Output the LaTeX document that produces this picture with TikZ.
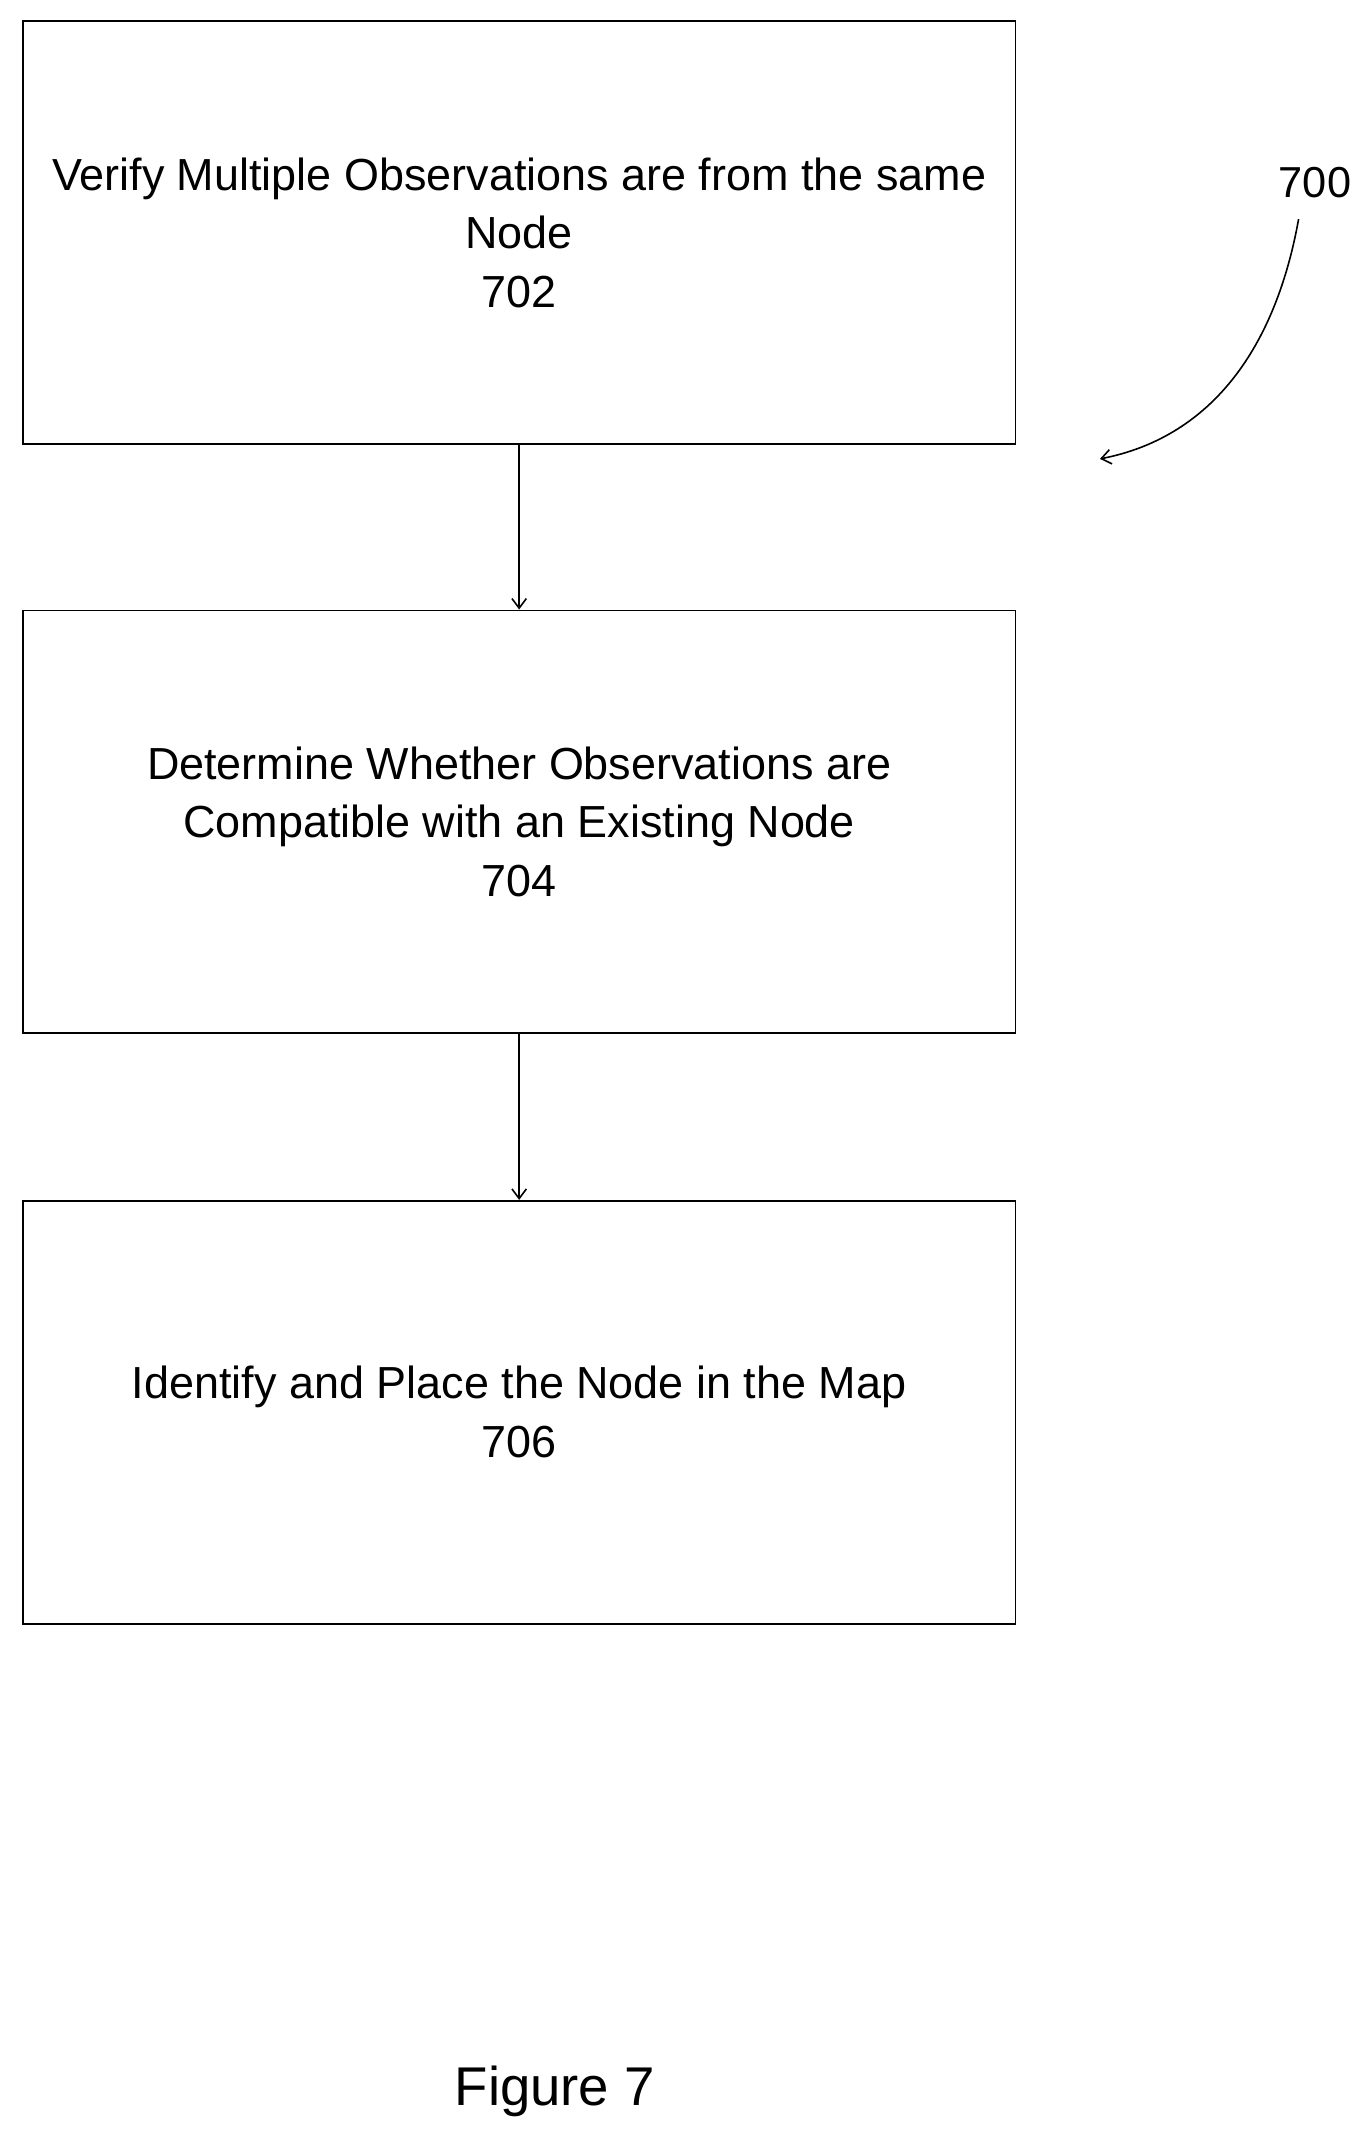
\documentclass[tikz,border=0pt]{standalone}
\usepackage{fontspec}
\setmainfont{Liberation Sans}
\usetikzlibrary{positioning,arrows.meta}
\tikzset{
  stepbox/.style={draw,line width=1.2pt,minimum width=21.74cm,minimum height=9.26cm,align=center,
    font=\fontsize{28}{36.6}\selectfont},
  flow/.style={-{Straight Barb[length=6pt,width=9pt]},line width=1pt}
}
\begin{document}
\begin{tikzpicture}[x=0.03cm,y=-0.03cm]
  \useasboundingbox (0,0) rectangle (1000,1563);
  \node[stepbox] (s702) at (379,170) {Verify Multiple Observations are from the same\\Node\\702};
  \node[stepbox] (s704) at (379,600) {Determine Whether Observations are\\Compatible with an Existing Node\\704};
  \node[stepbox] (s706) at (379,1031) {Identify and Place the Node in the Map\\706};
  \draw[flow] (s702) -- (s704);
  \draw[flow] (s704) -- (s706);
  \node[font=\fontsize{27}{30}\selectfont] (n700) at (960,133) {700};
  \coordinate (end700) at (803,335);
  \draw[flow] (948,160) .. controls (930,260) and (880,320) .. (end700);
  \node[font=\fontsize{34}{40}\selectfont] (fig) at (405,1527) {Figure 7};
\end{tikzpicture}
\end{document}
